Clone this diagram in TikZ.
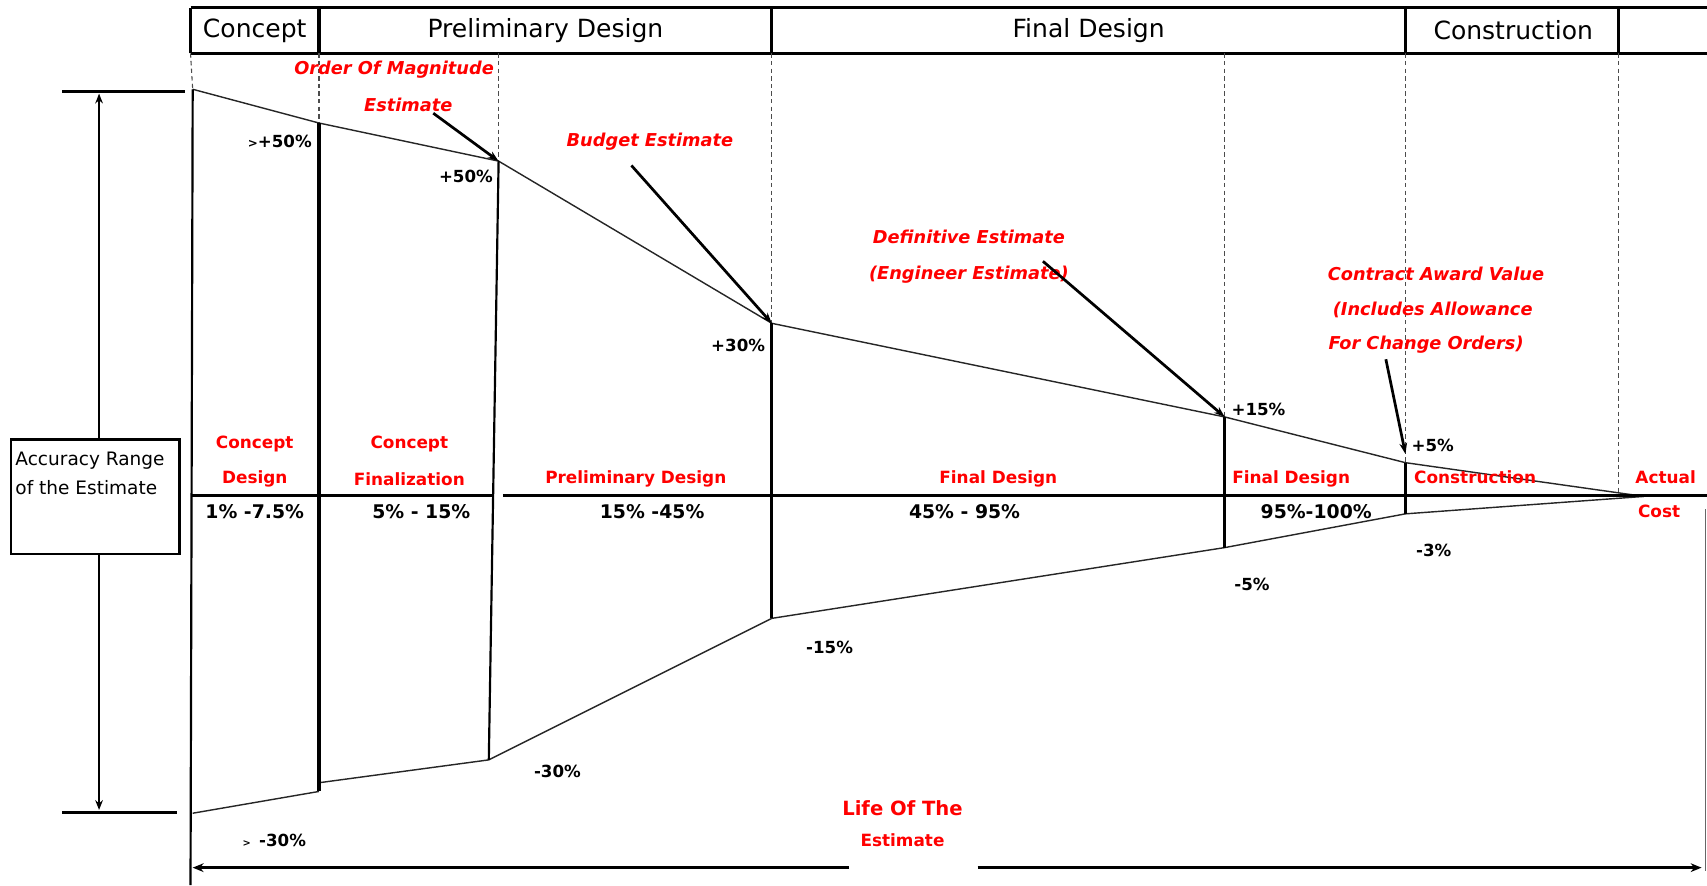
\documentclass[tikz,border=0pt]{standalone}
\usepackage{fontspec}
\setmainfont{DejaVu Sans}
\usetikzlibrary{arrows.meta,calc}
\begin{document}
\begin{tikzpicture}[x=1pt,y=-1pt,
  hdr/.style={font=\fontsize{23}{23}\selectfont, inner sep=0},
  est/.style={text=red, font=\fontsize{16.3}{16.3}\selectfont\bfseries\itshape, inner sep=0},
  stage/.style={text=red, font=\fontsize{15.5}{15.5}\selectfont\bfseries, inner sep=0},
  pct/.style={font=\fontsize{15.3}{15.3}\selectfont\bfseries, inner sep=0},
  rng/.style={font=\fontsize{17.3}{17.3}\selectfont\bfseries, inner sep=0},
  rule/.style={line width=3pt},
  guide/.style={line width=1pt, dash pattern=on 4pt off 3pt, black!70},
  band/.style={line width=1.3pt, black!85},
  post/.style={line width=3pt},
  pointer/.style={line width=2.5pt, -{Stealth[length=10pt,width=7pt]}},
  span/.style={line width=2.5pt, -{Stealth[length=10pt,width=8pt]}},
]
\useasboundingbox (0,0) rectangle (1568,813);

% ---------- phase header ----------
\coordinate (H0) at (175,7);
\coordinate (H1) at (293,7);
\coordinate (H2) at (709,7);
\coordinate (H3) at (1291,7);
\coordinate (H4) at (1487,7);
\coordinate (HE) at (1568,7);
\draw[rule] (H0) -- (HE);
\draw[rule] (175,49) -- (1568,49);
\foreach \c in {H0,H1,H2,H3,H4} \draw[rule] (\c) -- ++(0,42);
\node[hdr] (hConcept) at (234,28) {Concept};
\node[hdr] (hPrelim)  at (501,28) {Preliminary Design};
\node[hdr] (hFinal)   at (1000,28) {Final Design};
\node[hdr] (hConstr)  at (1390,28) {Construction};

% ---------- estimate envelope points ----------
\coordinate (U0) at (177,82);
\coordinate (U1) at (293,113);
\coordinate (U2) at (458,148);
\coordinate (U3) at (709,297);
\coordinate (U4) at (1125,383);
\coordinate (U5) at (1291,425);
\coordinate (AC) at (1510,456);
\coordinate (L0) at (177,747);
\coordinate (L1a) at (293,727);
\coordinate (L1b) at (293,719);
\coordinate (L2) at (449,698);
\coordinate (L3) at (709,568);
\coordinate (L4) at (1125,503);
\coordinate (L5) at (1291,472);

% ---------- dashed guides from the header ----------
\draw[guide] (175,49) -- (U0);
\draw[guide] (293,49) -- (U1);
\draw[guide] (458,49) -- (U2);
\draw[guide] (709,49) -- (U3);
\draw[guide] (1125,49) -- (U4);
\draw[guide] (1291,49) -- (U5);
\draw[guide] (1487,49) -- (1487,455);

% ---------- envelope ----------
\draw[band] (U0) -- (U1) -- (U2) -- (U3) -- (U4) -- (U5) -- (AC);
\draw[band] (L0) -- (L1a);
\draw[band] (L1b) -- (L2) -- (L3) -- (L4) -- (L5) -- (AC);

% ---------- vertical posts ----------
\draw[line width=2pt] (U0) -- (175,813);
\draw[post] (U1) -- (L1a);
\draw[line width=2pt] (U2) -- (L2);
\draw[post] (U3) -- (L3);
\draw[post] (U4) -- (L4);
\draw[post] (U5) -- (L5);

% ---------- baseline ----------
\draw[rule] (175,455) -- (454,455);
\draw[rule] (462,455) -- (1568,455);
\draw[line width=1pt, black!60] (1567,468) -- (1567,800);

% ---------- accuracy range ----------
\coordinate (T0) at (57,84);
\coordinate (T1) at (170,84);
\coordinate (B0) at (57,746);
\coordinate (B1) at (163,746);
\draw[rule] (T0) -- (T1);
\draw[rule] (B0) -- (B1);
\node[draw, line width=2.5pt, minimum width=155pt, minimum height=105pt, inner sep=0]
  (acc) at (87.5,456.5) {};
\node[anchor=west, font=\fontsize{17}{17}\selectfont, inner sep=0] (acc1) at (14,423) {Accuracy Range};
\node[anchor=west, font=\fontsize{17}{17}\selectfont, inner sep=0] (acc2) at (14,448) {of the Estimate};
\coordinate (AT) at (91,86);
\coordinate (AB) at (91,744);
\draw[line width=1.6pt, -{Stealth[length=9pt,width=7pt]}] (acc.north -| AT) -- (AT);
\draw[line width=1.6pt, -{Stealth[length=9pt,width=7pt]}] (acc.south -| AB) -- (AB);

% ---------- estimate labels and pointers ----------
\node[est] (oom1) at (362,64) {Order Of Magnitude};
\node[est] (oom2) at (375,96) {Estimate};
\coordinate (oomS) at (398,104);
\draw[pointer] (oomS) -- (U2);

\node[est] (bud) at (597,130) {Budget Estimate};
\coordinate (budS) at (580,152);
\draw[pointer] (budS) -- (U3);

\node[est] (def1) at (890,218) {Definitive Estimate};
\node[est] (def2) at (890,252) {(Engineer Estimate)};
\coordinate (defS) at (958,240);
\draw[pointer] (defS) -- (U4);

\node[est] (con1) at (1319,252) {Contract Award Value};
\node[est] (con2) at (1316,285) {(Includes Allowance};
\node[est] (con3) at (1310,317) {For Change Orders)};
\coordinate (conS) at (1273,330);
\draw[pointer] (conS) -- ($(U5)+(0,-8)$);

% ---------- envelope percentages ----------
\node[pct] (p1) at (257,130) {{\fontsize{11}{11}\selectfont >}+50\%};
\node[pct] (p2) at (428,162) {+50\%};
\node[pct] (p3) at (678,317) {+30\%};
\node[pct] (p4) at (1156,376) {+15\%};
\node[pct] (p5) at (1316,409) {+5\%};
\node[pct] (m1) at (1317,506) {-3\%};
\node[pct] (m2) at (1150,537) {-5\%};
\node[pct] (m3) at (762,595) {-15\%};
\node[pct] (m4) at (512,709) {-30\%};
\node[pct] (m5) at (252,772) {{\fontsize{9}{9}\selectfont >}\enspace -30\%};

% ---------- stage names ----------
\node[stage] (s1a) at (234,408) {Concept};
\node[stage] (s1b) at (234,440) {Design};
\node[stage] (s2a) at (376,408) {Concept};
\node[stage] (s2b) at (376,440) {Finalization};
\node[stage] (s3)  at (584,440) {Preliminary Design};
\node[stage] (s4)  at (917,440) {Final Design};
\node[stage] (s5)  at (1186,440) {Final Design};
\node[stage] (s6)  at (1355,438) {Construction};
\node[stage] (s7a) at (1530,438) {Actual};
\node[stage] (s7b) at (1524,470) {Cost};

% ---------- design completion ranges ----------
\node[rng] (r1) at (234,470) {1\% -7.5\%};
\node[rng] (r2) at (387,470) {5\% - 15\%};
\node[rng] (r3) at (599,470) {15\% -45\%};
\node[rng] (r4) at (886,470) {45\% - 95\%};
\node[rng] (r5) at (1209,470) {95\%-100\%};

% ---------- life of the estimate ----------
\node[stage, font=\fontsize{18}{18}\selectfont\bfseries] (life1) at (829,742) {Life Of The};
\node[stage, font=\fontsize{15.5}{15.5}\selectfont\bfseries] (life2) at (829,772) {Estimate};
\coordinate (LL) at (177,797);
\coordinate (LR) at (1563,797);
\draw[span] (780,797) -- (LL);
\draw[span] (898,797) -- (LR);

\end{tikzpicture}
\end{document}
